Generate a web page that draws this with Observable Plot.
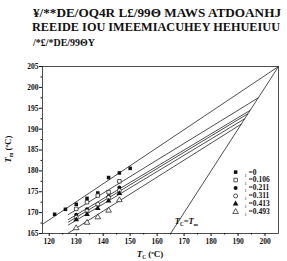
<!DOCTYPE html>
<html><head><meta charset="utf-8">
<script src="https://cdn.jsdelivr.net/npm/d3@7"></script>
<script src="https://cdn.jsdelivr.net/npm/@observablehq/plot@0.6"></script>
<style>
body{margin:0;background:#fff;width:287px;height:261px;overflow:hidden;font-family:"Liberation Serif",serif}
#t svg,#c svg{display:block}
</style>
</head><body><div id="t"></div><div id="c"></div>
<script>
// ---- data ----
const titleLines = ["¥/**DE/OQ4R  L£/99Θ MAWS ATDOANHJ", "REEIDE IOU IMEEMIACUHEY HEHUEIUU", "/*£/*DE/99ΘY"];
const phiLabels = ["=0", "=0.106", "=0.211", "=0.311", "=0.413", "=0.493"];
const symbols = ["square", "square", "circle", "circle", "triangle", "triangle"];
const filled = [true, false, true, false, true, false];
const tcA = [122, 126, 130, 134, 138, 142, 146, 150];
const tcB = [130, 134, 138, 142, 146];
const tm0 = [169.6, 170.8, 172.0, 173.4, 174.7, 178.4, 179.5, 180.6];
const tm106 = [170.9, 172.5, 174.1, 174.9, 177.5];
const tm211 = [169.5, 170.8, 171.9, 173.9, 176.0];
const tm311 = [168.9, 170.4, 172.0, 173.6, 175.3];
const tm413 = [168.3, 169.6, 171.0, 172.8, 174.6];
const tm493 = [166.3, 167.6, 168.9, 170.5, 173.0];
const fitStartTc = [117.5, 127, 127, 127, 127, 126.8];
const fitStartTm = [167.2, 169.5, 168.3, 167.7, 167.0, 165];
const fitTm0 = [205, 197.5, 194.5, 193.7, 192.5, 191.2];
const diagonal = [165, 205];
const xTicks = [120, 130, 140, 150, 160, 170, 180, 190, 200];
const xMinor = [125, 135, 145, 155, 165, 175, 185, 195];
const yTicks = [165, 170, 175, 180, 185, 190, 195, 200, 205];
const yMinor = [167.5, 172.5, 177.5, 182.5, 187.5, 192.5, 197.5, 202.5];
const legendX = 189.1, legendTextX = 193.9, legendSubX = 192.4;
const legendY = [179.7, 177.8, 175.9, 174.0, 172.1, 170.2];

// ---- build tables ----
const seriesTm = [tm0, tm106, tm211, tm311, tm413, tm493];
const points = [];
seriesTm.forEach((arr, i) => {
  const tcs = i === 0 ? tcA : tcB;
  arr.forEach((v, j) => points.push({s: i, tc: tcs[j], tm: v}));
});
const fits = fitTm0.map((t, i) => ({x1: fitStartTc[i], y1: fitStartTm[i], x2: t, y2: t}));
const legend = phiLabels.map((l, i) => ({s: i, y: legendY[i], label: l}));

// ---- title ----
const tsvg = d3.select("#t").append("svg").attr("width", 287).attr("height", 50);
const tpos = [{x: 33, y: 17, w: 248, f: 12.5}, {x: 32, y: 31, w: 248, f: 11.5}, {x: 33, y: 46, w: 62, f: 11}];
titleLines.forEach((s, i) => {
  tsvg.append("text").attr("x", tpos[i].x).attr("y", tpos[i].y)
    .attr("textLength", tpos[i].w).attr("lengthAdjust", "spacingAndGlyphs")
    .attr("font-family", "Liberation Serif").attr("font-weight", "bold")
    .attr("font-size", tpos[i].f).attr("fill", "#111").text(s);
});

// ---- chart ----
const stroke = "#222";
const marks = [
  Plot.frame({stroke: stroke, strokeWidth: 0.8}),
  Plot.axisX({ticks: xTicks, tickSize: 3, tickPadding: 2, label: null, fontWeight: "bold"}),
  Plot.axisX({ticks: xMinor, tickSize: 1.5, text: null, label: null}),
  Plot.axisY({ticks: yTicks, tickSize: 3, tickPadding: 1, label: null, fontWeight: "bold"}),
  Plot.axisY({ticks: yMinor, tickSize: 1.5, text: null, label: null}),
  Plot.link(fits, {x1: "x1", y1: "y1", x2: "x2", y2: "y2", stroke: stroke, strokeWidth: 0.8}),
  Plot.link([0], {x1: diagonal[0], y1: diagonal[0], x2: diagonal[1], y2: diagonal[1], stroke: stroke, strokeWidth: 0.8})
];
for (let i = 0; i < 6; i++) {
  const pts = points.filter(d => d.s === i);
  const lg = legend.filter(d => d.s === i);
  const opts = {symbol: symbols[i], r: symbols[i] === "triangle" ? 2.1 : 2.0,
    fill: filled[i] ? "#111" : "white", stroke: "#111", strokeWidth: filled[i] ? 0 : 0.7};
  marks.push(Plot.dot(pts, {x: "tc", y: "tm", ...opts}));
  marks.push(Plot.dot(lg, {x: legendX, y: "y", ...opts}));
}
marks.push(Plot.text(legend, {x: legendTextX, y: "y", text: "label", textAnchor: "start", fontWeight: "bold", fontSize: 7.5}));
marks.push(Plot.text(legend, {x: legendSubX, y: "y", text: () => "1", textAnchor: "start", fontSize: 4.5, dy: 3}));

const plot = Plot.plot({
  width: 287, height: 211,
  marginTop: 16, marginBottom: 28, marginLeft: 42, marginRight: 9,
  x: {domain: [117.5, 205]},
  y: {domain: [165, 205]},
  style: {fontFamily: "Liberation Serif", fontSize: "7.5px", color: "#111", background: "white"},
  marks
});
document.getElementById("c").appendChild(plot);

// ---- rich text labels (italic T with subscripts) ----
const svg = d3.select(plot);
function rich(sel, sub, size) {
  sel.attr("font-family", "Liberation Serif").attr("font-weight", "bold").attr("font-size", size).attr("fill", "#111");
  sel.append("tspan").attr("font-style", "italic").text("T");
  sel.append("tspan").attr("font-size", size * 0.6).attr("dy", size * 0.25).text(sub);
  return sel;
}
const xl = svg.append("text").attr("x", 150).attr("y", 207).attr("text-anchor", "middle");
rich(xl, "C", 9);
xl.append("tspan").attr("dy", -9 * 0.25).text(" (");
xl.append("tspan").attr("font-size", 5).attr("dy", -3).text("o");
xl.append("tspan").attr("dy", 3).text("C)");

const yl = svg.append("text").attr("transform", "translate(11,99) rotate(-90)").attr("text-anchor", "middle");
rich(yl, "m", 9);
yl.append("tspan").attr("dy", -9 * 0.25).text(" (");
yl.append("tspan").attr("font-size", 5).attr("dy", -3).text("o");
yl.append("tspan").attr("dy", 3).text("C)");

const sx = plot.scale("x"), sy = plot.scale("y");
const an = svg.append("text").attr("x", sx.apply(171)).attr("y", sy.apply(167.2));
rich(an, "C", 8.5);
an.append("tspan").attr("dy", -8.5 * 0.25).text("=");
an.append("tspan").attr("font-style", "italic").text("T");
an.append("tspan").attr("font-size", 5).attr("dy", 2).text("m");
</script></body></html>
